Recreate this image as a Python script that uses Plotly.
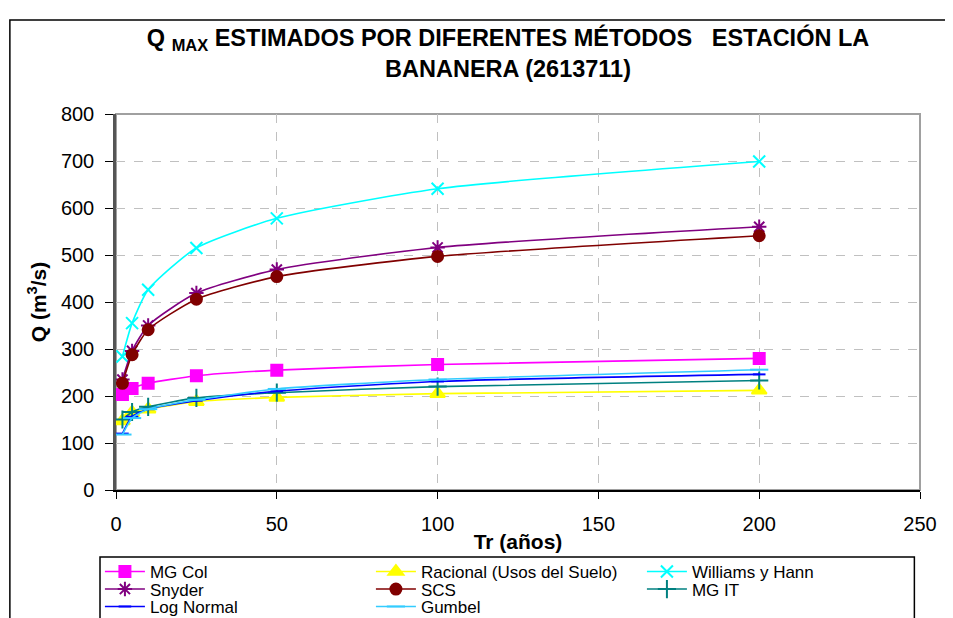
import plotly.graph_objects as go

# Return periods (años) and estimated peak flows (m3/s)
tr = [2, 5, 10, 25, 50, 100, 200]

mg_col = [203, 216, 227, 243, 255, 267, 280]
racional = [147, 165, 172, 188, 197, 205, 212]
williams = [284, 355, 426, 515, 578, 641, 699]
snyder = [235, 296, 350, 419, 469, 516, 560]
scs = [227, 288, 341, 406, 454, 497, 541]
mg_it = [150, 166, 177, 196, 207, 220, 233]
log_normal = [120, 156, 172, 190, 210, 231, 246]
gumbel = [118, 153, 172, 192, 215, 235, 256]

x_ticks = [0, 50, 100, 150, 200, 250]
y_ticks = [0, 100, 200, 300, 400, 500, 600, 700, 800]

FONT = "Liberation Sans, Arial, sans-serif"

# name, values, color, marker symbol, marker size, legend row
series = [
    ("MG Col", mg_col, "#FF00FF", "square", 11, "legend"),
    ("Racional (Usos del Suelo)", racional, "#FFFF00", "triangle-up", 13, "legend"),
    ("Williams y Hann", williams, "#00FFFF", "x-thin-open", 12, "legend"),
    ("Snyder", snyder, "#800080", "asterisk-open", 12, "legend2"),
    ("SCS", scs, "#800000", "circle", 11, "legend2"),
    ("MG IT", mg_it, "#008080", "cross-thin-open", 13, "legend2"),
    ("Log Normal", log_normal, "#0000FF", "line-ew-open", 9, "legend3"),
    ("Gumbel", gumbel, "#33CCFF", "line-ew-open", 13, "legend3"),
]

fig = go.Figure()

for name, vals, color, symbol, size, leg in series:
    fig.add_trace(go.Scatter(
        x=tr, y=vals, name=name, mode="lines+markers",
        line=dict(color=color, width=1.6, shape="spline", smoothing=0.6),
        marker=dict(symbol=symbol, size=size, color=color,
                    line=dict(color=color, width=2)),
        legend=leg,
    ))

# outer chart frame (top + left edges only) and legend box, Excel style
fig.add_shape(type="path", xref="paper", yref="paper",
              path="M -0.132 -0.6 L -0.132 1.25 L 1.2 1.25",
              line=dict(color="black", width=1.5), layer="below")
fig.add_shape(type="rect", xref="paper", yref="paper",
              x0=-0.0199, x1=0.993, y0=-0.6, y1=-0.1782,
              line=dict(color="black", width=1.5), layer="below")
# plot area border (top / right grey)
fig.add_shape(type="rect", xref="paper", yref="paper",
              x0=0, x1=1, y0=0, y1=1,
              line=dict(color="#A0A0A0", width=2), layer="below")

leg_common = dict(orientation="h", xanchor="left", yanchor="middle",
                  x=-0.02, bgcolor="rgba(0,0,0,0)", borderwidth=0,
                  font=dict(family=FONT, size=17, color="black"),
                  itemwidth=40, entrywidth=216, entrywidthmode="pixels",
                  tracegroupgap=0, itemclick=False)

# the page body adds an 8px offset, so margins are shifted by 8px
fig.update_layout(
    width=953, height=618,
    paper_bgcolor="white", plot_bgcolor="white",
    font=dict(family=FONT, color="black"),
    margin=dict(l=108, r=41, t=106, b=136, autoexpand=False),
    title=dict(
        text="Q <sub>MAX</sub> ESTIMADOS POR DIFERENTES MÉTODOS\u00a0\u00a0\u00a0ESTACIÓN LA<br>BANANERA (2613711)",
        x=0.5247, xanchor="center", y=0.938, yanchor="top",
        font=dict(family=FONT, size=23.5, color="black", weight="bold"),
    ),
    xaxis=dict(
        range=[0, 250], tickvals=x_ticks, showgrid=True,
        gridcolor="#C0C0C0", griddash="dash", gridwidth=1,
        showline=True, linecolor="black", linewidth=1.5,
        ticks="outside", ticklen=7, tickcolor="black", tickwidth=1.2,
        tickfont=dict(family=FONT, size=20), ticklabelstandoff=8,
        zeroline=False,
        title=dict(text="Tr (años)", standoff=1,
                   font=dict(family=FONT, size=21, weight="bold")),
    ),
    yaxis=dict(
        range=[0, 800], tickvals=y_ticks, showgrid=True,
        gridcolor="#C0C0C0", griddash="dash", gridwidth=1,
        showline=True, linecolor="#555555", linewidth=2.5,
        ticks="outside", ticklen=8, tickcolor="black", tickwidth=1.2,
        tickfont=dict(family=FONT, size=20), ticklabelstandoff=7,
        zeroline=False,
        title=dict(text="Q (m<sup>3</sup>/s)", standoff=9,
                   font=dict(family=FONT, size=21, weight="bold")),
    ),
    legend=dict(leg_common, y=-0.218),
    legend2=dict(leg_common, y=-0.2646),
    legend3=dict(leg_common, y=-0.311),
)

fig.write_html("out.html")
